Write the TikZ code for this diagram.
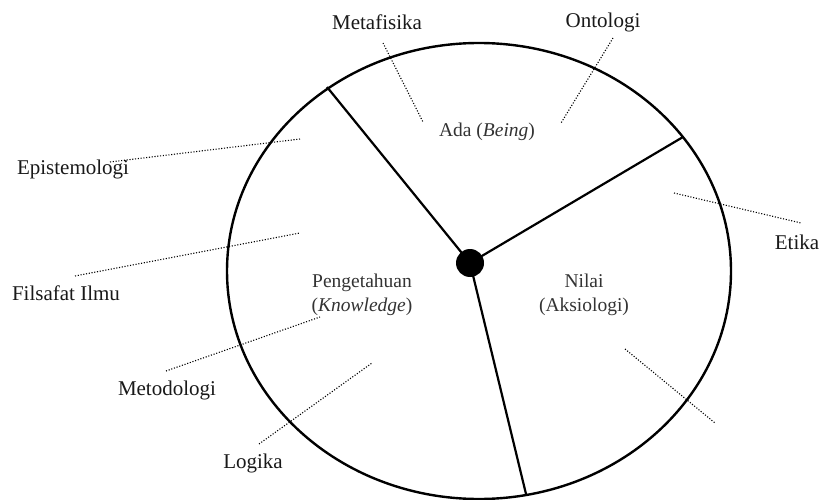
\documentclass[tikz,border=0pt]{standalone}
\usepackage{fontspec}
\setmainfont{Liberation Serif}
\usetikzlibrary{shapes.geometric}
\begin{document}
\begin{tikzpicture}[x=1pt,y=-1pt,
  lbl/.style={font=\fontsize{21}{23}\selectfont, inner sep=0pt, text=black!90},
  inlbl/.style={font=\fontsize{19.5}{24}\selectfont, inner sep=0pt, align=center, text=black!80},
  ray/.style={line width=2.2pt},
  dot line/.style={line width=1.1pt, dash pattern=on 1.1pt off 1.7pt}]
\useasboundingbox (0,0) rectangle (821,500);
\fill[white] (0,0) rectangle (821,500);
% circle
\node[draw, ellipse, minimum width=504pt, minimum height=456pt, line width=2.4pt, inner sep=0pt] (E) at (479,271) {};
\coordinate (c) at (470,263);
\coordinate (pA) at (327,87);
\coordinate (pB) at (683,137);
\coordinate (pC) at (526,494);
\draw[ray] (c) -- (pA);
\draw[ray] (c) -- (pB);
\draw[ray] (c) -- (pC);
\node[circle, fill=black, minimum size=28pt, inner sep=0pt] (hub) at (c) {};
% inner labels
\node[inlbl] (ada) at (487,132) {Ada (\textit{Being})};
\node[inlbl] (peng) at (362,295) {Pengetahuan\\(\textit{Knowledge})};
\node[inlbl] (nilai) at (584,295) {Nilai\\(Aksiologi)};
% outer labels
\node[lbl] (meta) at (377,22) {Metafisika};
\node[lbl] (onto) at (603,22) {Ontologi};
\node[lbl] (epis) at (73,169) {Epistemologi};
\node[lbl] (fils) at (66,293) {Filsafat Ilmu};
\node[lbl] (meto) at (167,390) {Metodologi};
\node[lbl] (logi) at (253,463) {Logika};
\node[lbl] (etika) at (797,242) {Etika};
% dotted connectors
\coordinate (m1) at (383,43); \coordinate (m2) at (423,122);
\coordinate (o1) at (613,38); \coordinate (o2) at (561,123);
\coordinate (e1) at (110,162); \coordinate (e2) at (300,139);
\coordinate (f1) at (75,276); \coordinate (f2) at (300,233);
\coordinate (d1) at (166,371); \coordinate (d2) at (320,317);
\coordinate (l1) at (259,444); \coordinate (l2) at (372,363);
\coordinate (t1) at (674,193); \coordinate (t2) at (801,223);
\coordinate (r1) at (625,349); \coordinate (r2) at (715,423);
\draw[dot line] (m1) -- (m2);
\draw[dot line] (o1) -- (o2);
\draw[dot line] (e1) -- (e2);
\draw[dot line] (f1) -- (f2);
\draw[dot line] (d1) -- (d2);
\draw[dot line] (l1) -- (l2);
\draw[dot line] (t1) -- (t2);
\draw[dot line] (r1) -- (r2);
\end{tikzpicture}
\end{document}
